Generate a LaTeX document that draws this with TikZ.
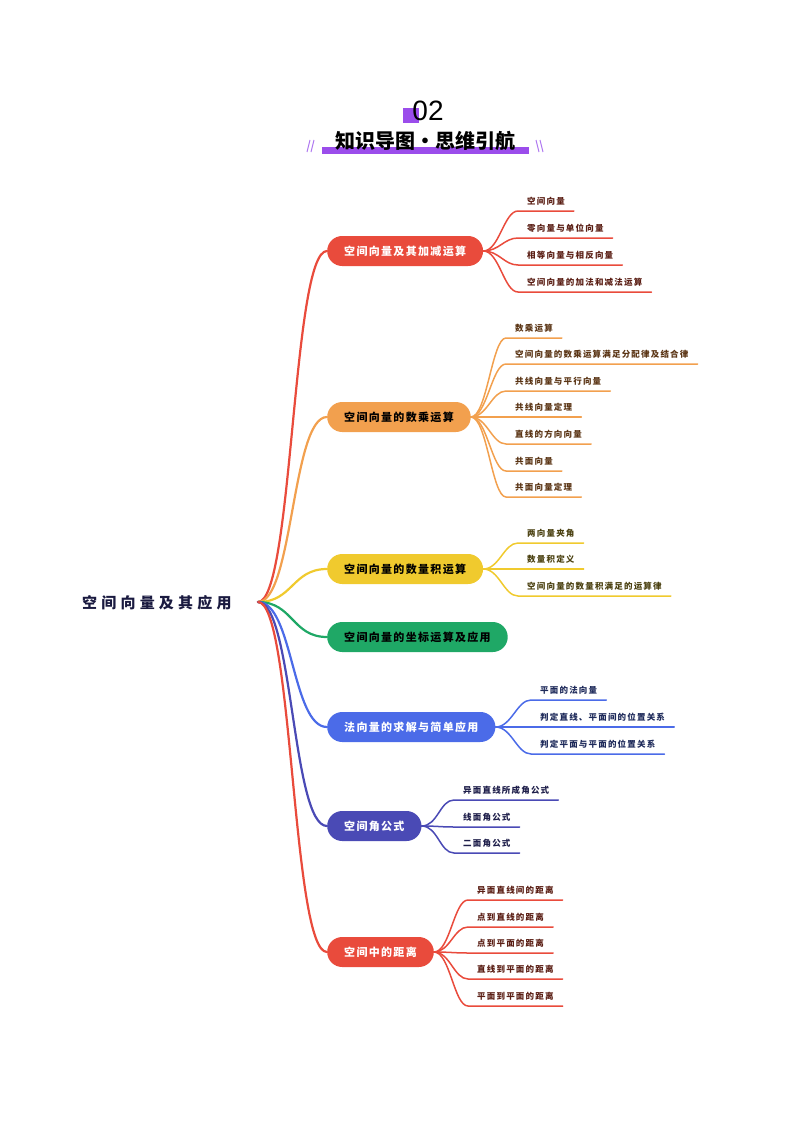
\documentclass[tikz,border=0pt]{standalone}
\usepackage{fontspec}
\newfontfamily\rootfont[LetterSpace=28]{Noto Sans CJK SC}
\newfontfamily\branchfont[LetterSpace=12]{Noto Sans CJK SC}
\newfontfamily\leaffont[LetterSpace=14]{Noto Sans CJK SC}
\newfontfamily\titlefont{Noto Sans CJK SC}
\newfontfamily\numfont{Liberation Sans}

\definecolor{zred}{HTML}{E94B3C}
\definecolor{zorange}{HTML}{F2A04E}
\definecolor{zyellow}{HTML}{F0CA2E}
\definecolor{zgreen}{HTML}{1FA866}
\definecolor{zblue}{HTML}{4B6BE8}
\definecolor{zindigo}{HTML}{4A4AB5}
\definecolor{zpurple}{HTML}{9B4DEB}
\definecolor{zlilac}{HTML}{B07AF0}
\definecolor{rootink}{HTML}{1A1A40}
\definecolor{redink}{HTML}{5A1E14}
\definecolor{orangeink}{HTML}{5A3414}
\definecolor{yellowink}{HTML}{4A4010}
\definecolor{blueink}{HTML}{1E2A5A}
\definecolor{indigoink}{HTML}{1E1E4A}

\begin{document}
\begin{tikzpicture}[
	x=1pt,y=-1pt,
	root/.style={
		anchor=west,
		inner sep=0pt,
		text=rootink,
		font=\rootfont\bfseries\fontsize{15}{18}\selectfont
	},
	branch/.style={
		rectangle,
		rounded corners=15pt,
		anchor=west,
		minimum height=30pt,
		inner xsep=17pt,
		font=\branchfont\bfseries\fontsize{11}{13}\selectfont
	},
	leaf/.style={
		anchor=south west,
		inner xsep=9pt,
		inner ysep=5pt,
		text height=7.5pt,
		text depth=1pt,
		font=\leaffont\bfseries\fontsize{8.5}{10}\selectfont
	},
	trunk/.style={line width=2.2pt,line cap=round},
	twig/.style={line width=1.5pt,line cap=round}
]
\useasboundingbox (0,0) rectangle (800,1132);

% Titel
\fill[zpurple] (403,108) rectangle (419,123);
\node[font=\numfont\fontsize{28}{30}\selectfont] (num) at (428,111) {02};
\fill[zpurple] (322,147) rectangle (529,154);
\node[font=\titlefont\bfseries\fontsize{20}{22}\selectfont] (title) at (425,141) {知识导图·思维引航};
\draw[zlilac,line width=1pt] (307,152) -- (310,140) (311,152) -- (314,140);
\draw[zlilac,line width=1pt] (536,140) -- (539,152) (540,140) -- (543,152);

% Zentrum
\node[root] (root) at (82,603) {空间向量及其应用};
\coordinate (hub) at (258,602);

% Aeste
\node[branch,fill=zred,text=white] (b1) at (327,251) {空间向量及其加减运算};
\node[branch,fill=zorange,text=black] (b2) at (327,417) {空间向量的数乘运算};
\node[branch,fill=zyellow,text=black] (b3) at (327,569) {空间向量的数量积运算};
\node[branch,fill=zgreen,text=black] (b4) at (327,637) {空间向量的坐标运算及应用};
\node[branch,fill=zblue,text=white] (b5) at (327,727) {法向量的求解与简单应用};
\node[branch,fill=zindigo,text=white] (b6) at (327,826) {空间角公式};
\node[branch,fill=zred,text=white] (b7) at (327,952) {空间中的距离};

% Ast 1
\node[leaf,text=redink] (l11) at (518,211) {空间向量};
\node[leaf,text=redink] (l12) at (518,238) {零向量与单位向量};
\node[leaf,text=redink] (l13) at (518,265) {相等向量与相反向量};
\node[leaf,text=redink] (l14) at (518,292) {空间向量的加法和减法运算};

% Ast 2
\node[leaf,text=orangeink] (l21) at (506,338) {数乘运算};
\node[leaf,text=orangeink] (l22) at (506,364) {空间向量的数乘运算满足分配律及结合律};
\node[leaf,text=orangeink] (l23) at (506,391) {共线向量与平行向量};
\node[leaf,text=orangeink] (l24) at (506,417) {共线向量定理};
\node[leaf,text=orangeink] (l25) at (506,444) {直线的方向向量};
\node[leaf,text=orangeink] (l26) at (506,471) {共面向量};
\node[leaf,text=orangeink] (l27) at (506,497) {共面向量定理};

% Ast 3
\node[leaf,text=yellowink] (l31) at (518,543) {两向量夹角};
\node[leaf,text=yellowink] (l32) at (518,569) {数量积定义};
\node[leaf,text=yellowink] (l33) at (518,596) {空间向量的数量积满足的运算律};

% Ast 5
\node[leaf,text=blueink] (l51) at (531,700) {平面的法向量};
\node[leaf,text=blueink] (l52) at (531,727) {判定直线、平面间的位置关系};
\node[leaf,text=blueink] (l53) at (531,754) {判定平面与平面的位置关系};

% Ast 6
\node[leaf,text=indigoink] (l61) at (454,800) {异面直线所成角公式};
\node[leaf,text=indigoink] (l62) at (454,827) {线面角公式};
\node[leaf,text=indigoink] (l63) at (454,853) {二面角公式};

% Ast 7
\node[leaf,text=redink] (l71) at (468,900) {异面直线间的距离};
\node[leaf,text=redink] (l72) at (468,927) {点到直线的距离};
\node[leaf,text=redink] (l73) at (468,953) {点到平面的距离};
\node[leaf,text=redink] (l74) at (468,979) {直线到平面的距离};
\node[leaf,text=redink] (l75) at (468,1006) {平面到平面的距离};

% Verbindungen Zentrum
\draw[trunk,zred] (hub) .. controls +(35,0) and +(-35,0) .. (b1.west);
\draw[trunk,zorange] (hub) .. controls +(35,0) and +(-35,0) .. (b2.west);
\draw[trunk,zyellow] (hub) .. controls +(35,0) and +(-35,0) .. (b3.west);
\draw[trunk,zgreen] (hub) .. controls +(35,0) and +(-35,0) .. (b4.west);
\draw[trunk,zblue] (hub) .. controls +(35,0) and +(-35,0) .. (b5.west);
\draw[trunk,zindigo] (hub) .. controls +(35,0) and +(-35,0) .. (b6.west);
\draw[trunk,zred] (hub) .. controls +(35,0) and +(-35,0) .. (b7.west);

% Verbindungen Ast 1
\draw[twig,zred] (b1.east) .. controls +(16,0) and +(-14,0) .. (l11.south west) -- (l11.south east);
\draw[twig,zred] (b1.east) .. controls +(16,0) and +(-14,0) .. (l12.south west) -- (l12.south east);
\draw[twig,zred] (b1.east) .. controls +(16,0) and +(-14,0) .. (l13.south west) -- (l13.south east);
\draw[twig,zred] (b1.east) .. controls +(16,0) and +(-14,0) .. (l14.south west) -- (l14.south east);

% Verbindungen Ast 2
\draw[twig,zorange] (b2.east) .. controls +(16,0) and +(-14,0) .. (l21.south west) -- (l21.south east);
\draw[twig,zorange] (b2.east) .. controls +(16,0) and +(-14,0) .. (l22.south west) -- (l22.south east);
\draw[twig,zorange] (b2.east) .. controls +(16,0) and +(-14,0) .. (l23.south west) -- (l23.south east);
\draw[twig,zorange] (b2.east) .. controls +(16,0) and +(-14,0) .. (l24.south west) -- (l24.south east);
\draw[twig,zorange] (b2.east) .. controls +(16,0) and +(-14,0) .. (l25.south west) -- (l25.south east);
\draw[twig,zorange] (b2.east) .. controls +(16,0) and +(-14,0) .. (l26.south west) -- (l26.south east);
\draw[twig,zorange] (b2.east) .. controls +(16,0) and +(-14,0) .. (l27.south west) -- (l27.south east);

% Verbindungen Ast 3
\draw[twig,zyellow] (b3.east) .. controls +(16,0) and +(-14,0) .. (l31.south west) -- (l31.south east);
\draw[twig,zyellow] (b3.east) .. controls +(16,0) and +(-14,0) .. (l32.south west) -- (l32.south east);
\draw[twig,zyellow] (b3.east) .. controls +(16,0) and +(-14,0) .. (l33.south west) -- (l33.south east);

% Verbindungen Ast 5
\draw[twig,zblue] (b5.east) .. controls +(16,0) and +(-14,0) .. (l51.south west) -- (l51.south east);
\draw[twig,zblue] (b5.east) .. controls +(16,0) and +(-14,0) .. (l52.south west) -- (l52.south east);
\draw[twig,zblue] (b5.east) .. controls +(16,0) and +(-14,0) .. (l53.south west) -- (l53.south east);

% Verbindungen Ast 6
\draw[twig,zindigo] (b6.east) .. controls +(16,0) and +(-14,0) .. (l61.south west) -- (l61.south east);
\draw[twig,zindigo] (b6.east) .. controls +(16,0) and +(-14,0) .. (l62.south west) -- (l62.south east);
\draw[twig,zindigo] (b6.east) .. controls +(16,0) and +(-14,0) .. (l63.south west) -- (l63.south east);

% Verbindungen Ast 7
\draw[twig,zred] (b7.east) .. controls +(16,0) and +(-14,0) .. (l71.south west) -- (l71.south east);
\draw[twig,zred] (b7.east) .. controls +(16,0) and +(-14,0) .. (l72.south west) -- (l72.south east);
\draw[twig,zred] (b7.east) .. controls +(16,0) and +(-14,0) .. (l73.south west) -- (l73.south east);
\draw[twig,zred] (b7.east) .. controls +(16,0) and +(-14,0) .. (l74.south west) -- (l74.south east);
\draw[twig,zred] (b7.east) .. controls +(16,0) and +(-14,0) .. (l75.south west) -- (l75.south east);

\end{tikzpicture}
\end{document}
